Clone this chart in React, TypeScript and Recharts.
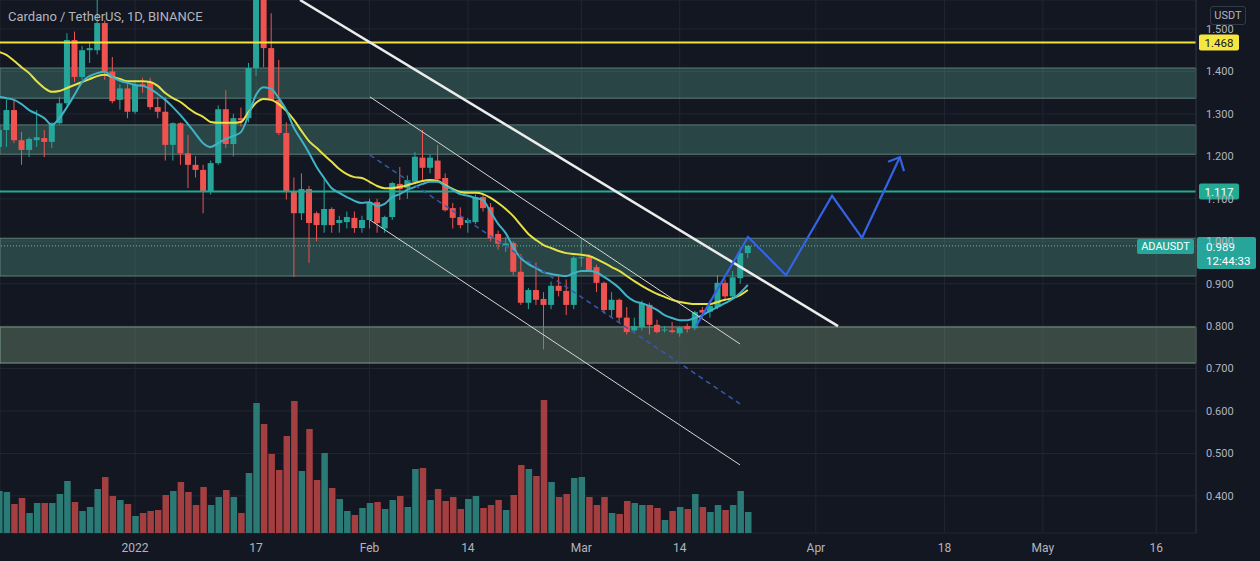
import React from "react";
import {
  ComposedChart,
  Bar,
  Line,
  XAxis,
  YAxis,
  CartesianGrid,
  ReferenceArea,
  ReferenceLine,
} from "recharts";

// days are counted from Jan 1 2022; first candle is Dec 14 2021
const FIRST_DAY = -18;

const opens = [
  1.222, 1.262, 1.309, 1.238, 1.215, 1.238, 1.243, 1.234, 1.278, 1.325,
  1.474, 1.387, 1.45, 1.45, 1.514, 1.4, 1.333, 1.36, 1.305, 1.37,
  1.376, 1.316, 1.305, 1.227, 1.278, 1.207, 1.18, 1.168, 1.116, 1.184,
  1.311, 1.229, 1.29, 1.29, 1.408, 1.58, 1.455, 1.333, 1.255, 1.116,
  1.066, 1.123, 1.066, 1.038, 1.076, 1.043, 1.045, 1.055, 1.031, 1.05,
  1.092, 1.03, 1.057, 1.135, 1.125, 1.14, 1.197, 1.173, 1.19, 1.149,
  1.078, 1.057, 1.043, 1.045, 1.104, 1.08, 1.017, 0.99, 0.996, 0.928,
  0.855, 0.885, 0.864, 0.85, 0.895, 0.883, 0.85, 0.96, 0.962, 0.939,
  0.902, 0.838, 0.862, 0.82, 0.79, 0.797, 0.85, 0.803, 0.79, 0.79,
  0.783, 0.8, 0.795, 0.838, 0.834, 0.845, 0.902, 0.87, 0.913, 0.972,
];
const highs = [
  1.27, 1.333, 1.333, 1.257, 1.245, 1.309, 1.262, 1.28, 1.34, 1.49,
  1.494, 1.46, 1.47, 1.58, 1.52, 1.434, 1.37, 1.37, 1.38, 1.385,
  1.385, 1.34, 1.34, 1.28, 1.28, 1.25, 1.2, 1.18, 1.19, 1.32,
  1.356, 1.3, 1.315, 1.42, 1.64, 1.62, 1.537, 1.427, 1.28, 1.15,
  1.16, 1.13, 1.07, 1.15, 1.08, 1.06, 1.07, 1.07, 1.06, 1.1,
  1.1, 1.06, 1.14, 1.175, 1.155, 1.21, 1.262, 1.205, 1.227, 1.16,
  1.09, 1.08, 1.055, 1.11, 1.11, 1.09, 1.025, 1.01, 1.0, 0.97,
  0.89, 0.95, 0.88, 0.905, 0.92, 0.91, 0.965, 1.007, 0.97, 0.945,
  0.905, 0.88, 0.865, 0.845, 0.82, 0.86, 0.855, 0.815, 0.8, 0.81,
  0.8, 0.806, 0.836, 0.845, 0.86, 0.92, 0.91, 0.93, 0.985, 0.99,
];
const lows = [
  1.208, 1.222, 1.231, 1.18, 1.198, 1.222, 1.198, 1.22, 1.275, 1.32,
  1.375, 1.38, 1.42, 1.44, 1.38, 1.325, 1.31, 1.29, 1.3, 1.35,
  1.31, 1.29, 1.19, 1.19, 1.18, 1.125, 1.15, 1.066, 1.11, 1.18,
  1.22, 1.2, 1.27, 1.28, 1.39, 1.41, 1.33, 1.25, 1.098, 0.916,
  1.05, 0.949, 1.0, 1.02, 1.02, 1.02, 1.03, 1.02, 1.02, 1.03,
  1.02, 1.02, 1.05, 1.097, 1.1, 1.14, 1.14, 1.16, 1.14, 1.07,
  1.03, 1.03, 1.02, 1.04, 1.07, 1.0, 0.98, 0.975, 0.92, 0.85,
  0.84, 0.85, 0.745, 0.84, 0.87, 0.826, 0.84, 0.94, 0.93, 0.88,
  0.83, 0.82, 0.81, 0.78, 0.785, 0.79, 0.78, 0.783, 0.785, 0.783,
  0.775, 0.785, 0.79, 0.82, 0.82, 0.84, 0.86, 0.865, 0.9, 0.96,
];
const closes = [
  1.262, 1.309, 1.238, 1.215, 1.241, 1.245, 1.234, 1.278, 1.325, 1.474,
  1.387, 1.45, 1.455, 1.514, 1.4, 1.33, 1.36, 1.305, 1.368, 1.366,
  1.316, 1.305, 1.227, 1.278, 1.207, 1.18, 1.168, 1.116, 1.184, 1.311,
  1.229, 1.29, 1.285, 1.408, 1.58, 1.455, 1.333, 1.255, 1.116, 1.066,
  1.123, 1.043, 1.038, 1.076, 1.038, 1.05, 1.057, 1.031, 1.05, 1.092,
  1.043, 1.057, 1.137, 1.123, 1.144, 1.199, 1.173, 1.197, 1.146, 1.073,
  1.055, 1.038, 1.05, 1.104, 1.078, 1.007, 0.994, 0.995, 0.928, 0.855,
  0.885, 0.862, 0.85, 0.895, 0.883, 0.85, 0.961, 0.962, 0.932, 0.902,
  0.838, 0.862, 0.82, 0.786, 0.8, 0.854, 0.803, 0.786, 0.792, 0.786,
  0.797, 0.793, 0.833, 0.832, 0.848, 0.902, 0.87, 0.915, 0.972, 0.989,
];
// volume, millions (relative)
const volumes = [
  42, 41, 29, 35, 20, 30, 30, 30, 39, 52,
  31, 22, 26, 44, 56, 37, 33, 29, 17, 20,
  22, 23, 38, 42, 51, 41, 28, 46, 28, 36,
  43, 36, 20, 60, 130, 109, 79, 63, 97, 132,
  62, 104, 53, 80, 45, 34, 22, 18, 25, 30,
  31, 24, 33, 37, 26, 64, 65, 33, 44, 32,
  36, 24, 34, 37, 25, 28, 33, 23, 38, 68,
  64, 57, 133, 51, 36, 39, 55, 56, 36, 28,
  36, 20, 19, 32, 30, 28, 28, 25, 13, 22,
  26, 24, 39, 26, 21, 28, 23, 28, 42, 21,
];
const emaFast = [
  1.34, 1.337, 1.333, 1.323, 1.309, 1.3, 1.29, 1.274, 1.29, 1.316,
  1.345, 1.375, 1.389, 1.396, 1.399, 1.387, 1.378, 1.373, 1.368, 1.366,
  1.359, 1.347, 1.333, 1.316, 1.297, 1.276, 1.253, 1.231, 1.222, 1.231,
  1.241, 1.248, 1.257, 1.297, 1.345, 1.363, 1.359, 1.337, 1.309, 1.267,
  1.238, 1.208, 1.175, 1.149, 1.125, 1.114, 1.104, 1.095, 1.09, 1.092,
  1.083, 1.088, 1.104, 1.111, 1.121, 1.128, 1.135, 1.14, 1.14, 1.13,
  1.121, 1.111, 1.107, 1.102, 1.097, 1.069, 1.041, 1.019, 0.986, 0.96,
  0.946, 0.937, 0.927, 0.923, 0.92, 0.918, 0.925, 0.93, 0.93, 0.927,
  0.916, 0.904, 0.89, 0.871, 0.859, 0.854, 0.847, 0.838, 0.826, 0.819,
  0.814, 0.814, 0.819, 0.826, 0.836, 0.845, 0.854, 0.864, 0.878, 0.897,
];
const emaSlow = [
  1.446, 1.439, 1.425, 1.41, 1.396, 1.377, 1.361, 1.352, 1.354, 1.361,
  1.368, 1.375, 1.382, 1.389, 1.392, 1.387, 1.382, 1.377, 1.377, 1.377,
  1.375, 1.366, 1.349, 1.337, 1.328, 1.314, 1.302, 1.293, 1.281, 1.279,
  1.279, 1.279, 1.281, 1.304, 1.326, 1.335, 1.333, 1.323, 1.307, 1.286,
  1.26, 1.236, 1.22, 1.203, 1.187, 1.17, 1.158, 1.151, 1.149, 1.14,
  1.13, 1.125, 1.125, 1.128, 1.132, 1.137, 1.142, 1.144, 1.142, 1.132,
  1.123, 1.116, 1.114, 1.114, 1.111, 1.102, 1.09, 1.076, 1.059, 1.038,
  1.017, 1.003, 0.991, 0.984, 0.977, 0.972, 0.97, 0.968, 0.965, 0.958,
  0.949, 0.939, 0.93, 0.918, 0.906, 0.895, 0.885, 0.876, 0.869, 0.862,
  0.857, 0.854, 0.852, 0.852, 0.852, 0.857, 0.862, 0.866, 0.873, 0.885,
];

const dayTicks = [0, 16, 31, 44, 59, 72, 90, 107, 120, 135];
const dayTickLabels = ["2022", "17", "Feb", "14", "Mar", "14", "Apr", "18", "May", "16"];
const priceTicks = [0.4, 0.5, 0.6, 0.7, 0.8, 0.9, 1.0, 1.1, 1.2, 1.3, 1.4, 1.5];

// drawn projection (blue path) and its arrow head
const projDays = [74.16, 81.03, 86.05, 92.14, 96.1, 101.1];
const projPrices = [0.8, 1.01, 0.92, 1.107, 1.008, 1.198];
const arrowDays = [99.54, 101.1, 101.65];
const arrowPrices = [1.187, 1.198, 1.165];

const BG = "#131722";
const UP = "#26a69a";
const DOWN = "#ef5350";
const TEXT = "#b2b5be";
const FONT = "Roboto, 'Noto Sans', sans-serif";
const BODY_W = 6;
const VOL_W = 6.5;

const rows = opens.map((o, i) => ({
  d: FIRST_DAY + i,
  open: o,
  high: highs[i],
  low: lows[i],
  close: closes[i],
  vol: volumes[i],
  emaFast: emaFast[i],
  emaSlow: emaSlow[i],
}));
const projection = projDays.map((d, i) => ({ d, p: projPrices[i] }));
const arrow = arrowDays.map((d, i) => ({ d, p: arrowPrices[i] }));

const xDomain = [-17.85, 140.25];
const yDomain = [0.3126, 1.5683];

function Candle(props: any) {
  const { x, y, width, height, payload } = props;
  const up = payload.close >= payload.open;
  const color = up ? UP : DOWN;
  const top = height < 0 ? y + height : y;
  const h = Math.abs(height);
  const k = payload.high > payload.low ? h / (payload.high - payload.low) : 0;
  const yo = top + (payload.high - payload.open) * k;
  const yc = top + (payload.high - payload.close) * k;
  const cx = x + (width || 0) / 2;
  return (
    <g>
      <line x1={cx} x2={cx} y1={top} y2={top + h} stroke={color} strokeWidth={1} />
      <rect
        x={cx - BODY_W / 2}
        y={Math.min(yo, yc)}
        width={BODY_W}
        height={Math.max(1, Math.abs(yo - yc))}
        fill={color}
      />
    </g>
  );
}

function VolumeBar(props: any) {
  const { x, y, width, height, payload } = props;
  const up = payload.close >= payload.open;
  const cx = x + (width || 0) / 2;
  const top = height < 0 ? y + height : y;
  return (
    <rect
      x={cx - VOL_W / 2}
      y={top}
      width={VOL_W}
      height={Math.abs(height)}
      fill={up ? "#2a7a76" : "#a33f40"}
    />
  );
}

function DayTick(props: any) {
  const { x, payload } = props;
  return (
    <text x={x} y={552} textAnchor="middle" fill={TEXT} fontSize={12} fontFamily={FONT}>
      {dayTickLabels[dayTicks.indexOf(payload.value)] ?? ""}
    </text>
  );
}

function AxisBadge({ viewBox, text, bg, fg }: any) {
  if (!viewBox) return null;
  const { x, y, width } = viewBox;
  const left = x + width + 3;
  return (
    <g>
      <rect x={left} y={y - 8} width={40} height={16} rx={2} fill={bg} />
      <text x={left + 20} y={y + 4} textAnchor="middle" fill={fg} fontSize={11.5} fontFamily={FONT}>
        {text}
      </text>
    </g>
  );
}

function LastPriceBadge({ viewBox }: any) {
  if (!viewBox) return null;
  const { x, y, width } = viewBox;
  const right = x + width;
  return (
    <g fontFamily={FONT}>
      <rect x={right - 59} y={y - 7} width={57} height={15} rx={2} fill={UP} />
      <text x={right - 30.5} y={y + 4.5} textAnchor="middle" fill="#ffffff" fontSize={11}>
        ADAUSDT
      </text>
      <rect x={right + 1} y={y - 9} width={59} height={32} rx={2} fill={UP} />
      <text x={right + 10} y={y + 5} fill="#ffffff" fontSize={11.5}>
        0.989
      </text>
      <text x={right + 10} y={y + 19} fill="#ffffff" fontSize={11.5}>
        12:44:33
      </text>
    </g>
  );
}

export default function App() {
  return (
    <div
      style={{
        position: "absolute",
        left: 0,
        top: 0,
        width: 1260,
        height: 561,
        background: BG,
        overflow: "hidden",
        fontFamily: FONT,
      }}
    >
      <ComposedChart
        width={1260}
        height={561}
        data={rows}
        margin={{ top: 0, right: 0, bottom: 0, left: 0 }}
      >
        <CartesianGrid xAxisId="x" yAxisId="p" stroke="#222631" />
        <XAxis
          xAxisId="x"
          type="number"
          dataKey="d"
          domain={xDomain}
          allowDataOverflow
          ticks={dayTicks}
          height={28}
          tickSize={0}
          tickLine={false}
          axisLine={{ stroke: "#2a2e39" }}
          tick={<DayTick />}
        />
        <XAxis xAxisId="vx" type="number" dataKey="d" domain={xDomain} allowDataOverflow hide />
        <YAxis
          yAxisId="p"
          orientation="right"
          type="number"
          domain={yDomain}
          allowDataOverflow
          ticks={priceTicks}
          tickFormatter={(v: number) => v.toFixed(3)}
          width={64}
          tickSize={0}
          tickMargin={10}
          axisLine={{ stroke: "#2a2e39" }}
          tick={{ fill: TEXT, fontSize: 11, fontFamily: FONT }}
        />
        <YAxis yAxisId="vol" domain={[0, 533]} allowDataOverflow hide />

        <ReferenceArea xAxisId="x" yAxisId="p" y1={1.337} y2={1.408} fill="rgb(100,190,160)" fillOpacity={0.28} stroke="#5d7e79" />
        <ReferenceArea xAxisId="x" yAxisId="p" y1={1.205} y2={1.274} fill="rgb(100,190,160)" fillOpacity={0.28} stroke="#5d7e79" />
        <ReferenceArea xAxisId="x" yAxisId="p" y1={0.918} y2={1.007} fill="rgb(100,190,160)" fillOpacity={0.28} stroke="#5d7e79" />
        <ReferenceArea xAxisId="x" yAxisId="p" y1={0.713} y2={0.798} fill="rgb(150,190,150)" fillOpacity={0.3} stroke="#7b9a86" />

        <Bar
          xAxisId="vx"
          yAxisId="vol"
          dataKey="vol"
          barSize={6.5}
          shape={<VolumeBar />}
          isAnimationActive={false}
        />

        <ReferenceLine
          xAxisId="x"
          yAxisId="p"
          y={1.468}
          stroke="#f2e33c"
          strokeWidth={2}
          label={<AxisBadge text="1.468" bg="#f5e642" fg="#131722" />}
        />
        <ReferenceLine
          xAxisId="x"
          yAxisId="p"
          y={1.117}
          stroke="#22ab94"
          strokeWidth={2}
          label={<AxisBadge text="1.117" bg="#22ab94" fg="#ffffff" />}
        />
        <ReferenceLine
          xAxisId="x"
          yAxisId="p"
          y={0.989}
          stroke="#6fb8ae"
          strokeDasharray="1 2"
          label={<LastPriceBadge />}
        />

        <Bar
          xAxisId="x"
          yAxisId="p"
          dataKey={(r: any) => [r.low, r.high]}
          barSize={6}
          shape={<Candle />}
          isAnimationActive={false}
        />

        <Line xAxisId="x" yAxisId="p" dataKey="emaSlow" type="monotone" stroke="#e6e245" strokeWidth={2} dot={false} activeDot={false} isAnimationActive={false} />
        <Line xAxisId="x" yAxisId="p" dataKey="emaFast" type="monotone" stroke="#3fb3c6" strokeWidth={2} dot={false} activeDot={false} isAnimationActive={false} />

        <ReferenceLine xAxisId="x" yAxisId="p" segment={[{ x: 21.81, y: 1.5683 }, { x: 92.93, y: 0.8 }]} stroke="#ececec" strokeWidth={2.5} ifOverflow="visible" />
        <ReferenceLine xAxisId="x" yAxisId="p" segment={[{ x: 31.06, y: 1.34 }, { x: 79.97, y: 0.758 }]} stroke="#d6d6d6" strokeWidth={1} ifOverflow="visible" />
        <ReferenceLine xAxisId="x" yAxisId="p" segment={[{ x: 31.06, y: 1.05 }, { x: 79.97, y: 0.473 }]} stroke="#d6d6d6" strokeWidth={1} ifOverflow="visible" />
        <ReferenceLine xAxisId="x" yAxisId="p" segment={[{ x: 31.06, y: 1.203 }, { x: 79.97, y: 0.617 }]} stroke="#3a57b0" strokeWidth={1.5} strokeDasharray="5 4" ifOverflow="visible" />

        <Line xAxisId="x" yAxisId="p" data={projection} dataKey="p" type="linear" stroke="#3563e3" strokeWidth={2.2} dot={false} activeDot={false} isAnimationActive={false} />
        <Line xAxisId="x" yAxisId="p" data={arrow} dataKey="p" type="linear" stroke="#3563e3" strokeWidth={2.2} dot={false} activeDot={false} isAnimationActive={false} />
      </ComposedChart>

      <div
        style={{
          position: "absolute",
          left: 8,
          top: 8,
          color: TEXT,
          fontSize: 13,
          lineHeight: "18px",
        }}
      >
        Cardano / TetherUS, 1D, BINANCE
      </div>
      <div
        style={{
          position: "absolute",
          left: 1210,
          top: 6,
          width: 34,
          height: 17,
          border: "1px solid #363a45",
          borderRadius: 3,
          color: TEXT,
          fontSize: 11,
          lineHeight: "17px",
          textAlign: "center",
        }}
      >
        USDT
      </div>
    </div>
  );
}
